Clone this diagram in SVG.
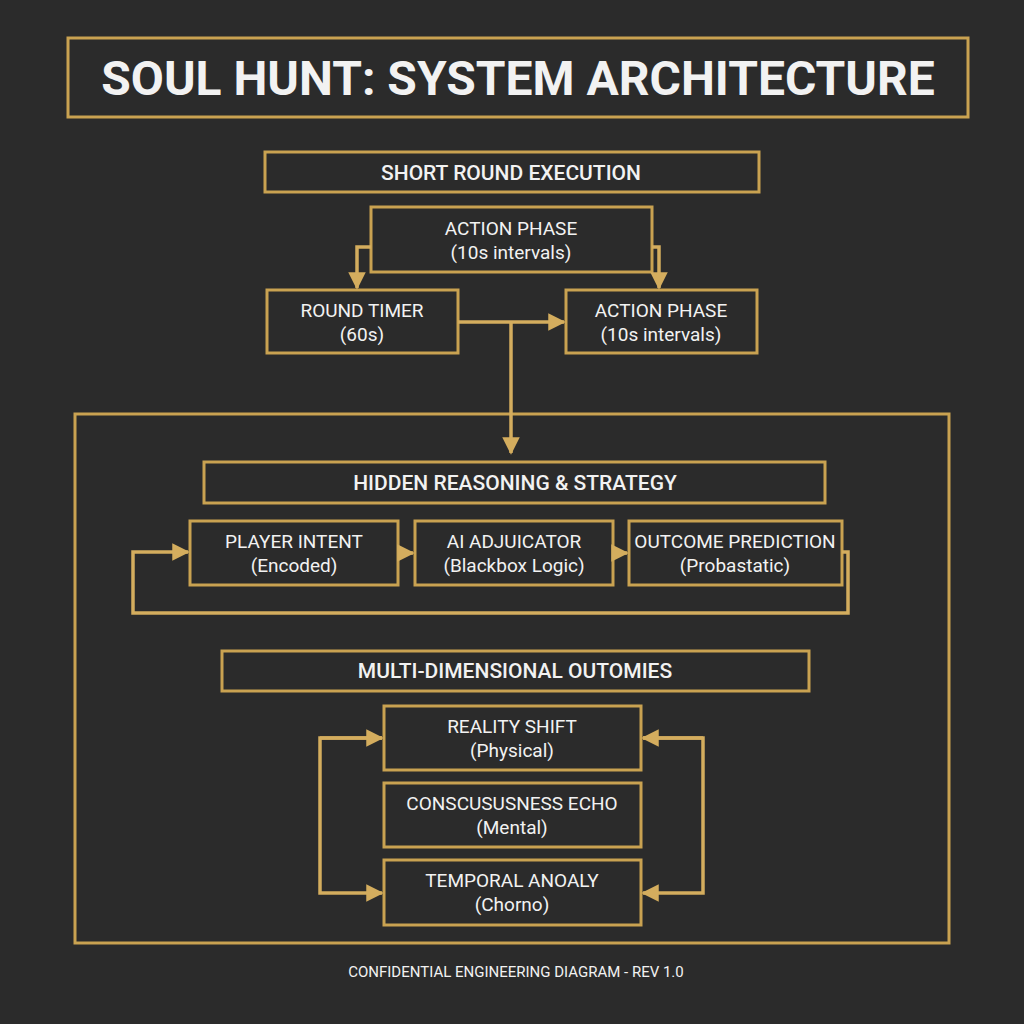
<svg xmlns="http://www.w3.org/2000/svg" width="1024" height="1024" viewBox="0 0 1024 1024">
<defs>
<style>
.b{fill:#2b2b2b;stroke:#c9a251;stroke-width:3}
.t{font-family:Roboto,"Liberation Sans",sans-serif;fill:#f2f2f2;text-anchor:middle;font-size:19px}
.h{font-size:21px;font-weight:500}
.c{fill:none;stroke:#d4ad5e;stroke-width:3.5}
</style>
<marker id="a" viewBox="0 0 10 10" refX="9" refY="5" markerWidth="5" markerHeight="5" orient="auto" markerUnits="strokeWidth"><path d="M0,0L10,5L0,10z" fill="#d4ad5e"/></marker>
</defs>
<rect width="1024" height="1024" fill="#2b2b2b"/>
<g id="title"><rect class="b" x="68" y="38" width="900" height="79"/><text class="t" x="518" y="95" style="font-size:48px;font-weight:bold">SOUL HUNT: SYSTEM ARCHITECTURE</text></g>
<g id="frame"><rect class="b" x="75" y="414" width="874" height="529" fill="none"/></g>
<g id="short"><rect class="b" x="265" y="152" width="494" height="40"/><text class="t h" x="511" y="180">SHORT ROUND EXECUTION</text></g>
<g id="action1"><rect class="b" x="371" y="207" width="281" height="65"/><text class="t" x="511" y="235">ACTION PHASE</text><text class="t" x="511" y="259">(10s intervals)</text></g>
<g id="timer"><rect class="b" x="267" y="290" width="191" height="63"/><text class="t" x="362" y="317">ROUND TIMER</text><text class="t" x="362" y="341">(60s)</text></g>
<g id="action2"><rect class="b" x="566" y="290" width="191" height="63"/><text class="t" x="661" y="317">ACTION PHASE</text><text class="t" x="661" y="341">(10s intervals)</text></g>
<g id="hidden"><rect class="b" x="204" y="462" width="621" height="41"/><text class="t h" x="515" y="490">HIDDEN REASONING &amp; STRATEGY</text></g>
<g id="player"><rect class="b" x="190" y="521" width="208" height="64"/><text class="t" x="294" y="548">PLAYER INTENT</text><text class="t" x="294" y="572">(Encoded)</text></g>
<g id="ai"><rect class="b" x="415" y="521" width="198" height="64"/><text class="t" x="514" y="548">AI ADJUICATOR</text><text class="t" x="514" y="572">(Blackbox Logic)</text></g>
<g id="outcome"><rect class="b" x="629" y="521" width="213" height="64"/><text class="t" x="735" y="548">OUTCOME PREDICTION</text><text class="t" x="735" y="572">(Probastatic)</text></g>
<g id="multi"><rect class="b" x="222" y="651" width="587" height="40"/><text class="t h" x="515" y="678">MULTI-DIMENSIONAL OUTOMIES</text></g>
<g id="reality"><rect class="b" x="384" y="706" width="257" height="64"/><text class="t" x="512" y="733">REALITY SHIFT</text><text class="t" x="512" y="757">(Physical)</text></g>
<g id="consc"><rect class="b" x="384" y="783" width="257" height="64"/><text class="t" x="512" y="810">CONSCUSUSNESS ECHO</text><text class="t" x="512" y="834">(Mental)</text></g>
<g id="temporal"><rect class="b" x="384" y="860" width="257" height="65"/><text class="t" x="512" y="887">TEMPORAL ANOALY</text><text class="t" x="512" y="911">(Chorno)</text></g>
<g id="connectors">
<path class="c" d="M371,247H357V288" marker-end="url(#a)"/>
<path class="c" d="M652,247H659V288" marker-end="url(#a)"/>
<path class="c" d="M458,322H564" marker-end="url(#a)"/>
<path class="c" d="M511,322V453" marker-end="url(#a)"/>
<path class="c" d="M398,553H413" marker-end="url(#a)"/>
<path class="c" d="M613,553H627" marker-end="url(#a)"/>
<path class="c" d="M842,552H848V613H133V552H188" marker-end="url(#a)"/>
<path class="c" d="M382,738H320V893H382" marker-end="url(#a)"/>
<path class="c" d="M320,738H382" marker-end="url(#a)"/>
<path class="c" d="M643,738H703V893H643" marker-end="url(#a)"/>
<path class="c" d="M703,738H643" marker-end="url(#a)"/>
</g>
<text class="t" x="516" y="977" style="font-size:15px">CONFIDENTIAL ENGINEERING DIAGRAM - REV 1.0</text>
</svg>
